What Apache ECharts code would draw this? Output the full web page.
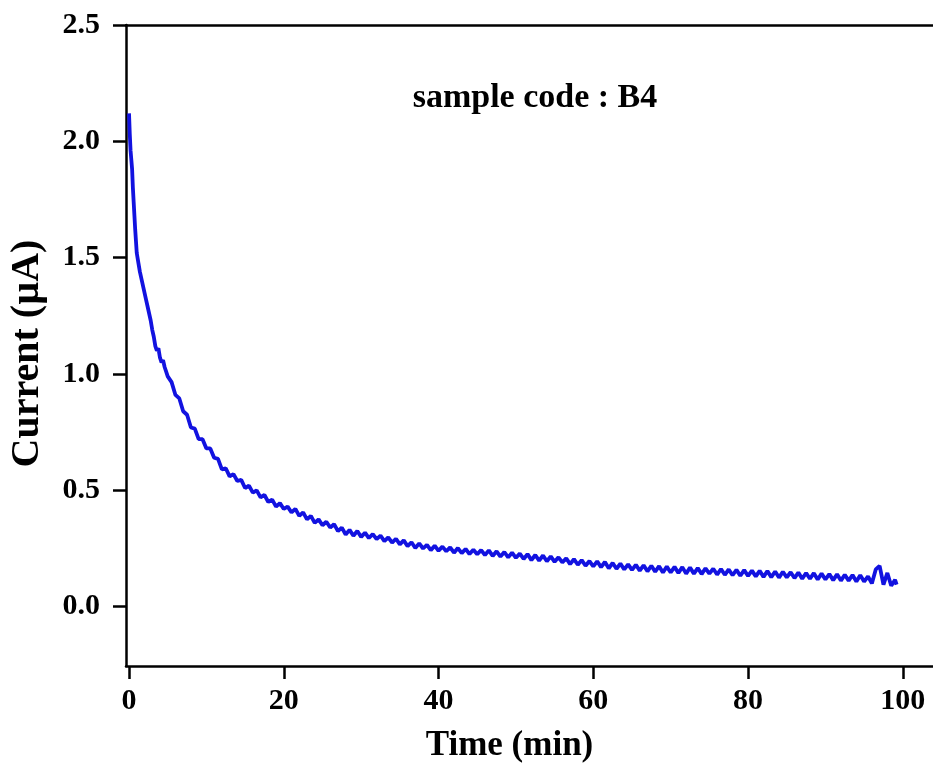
<!DOCTYPE html>
<html>
<head>
<meta charset="utf-8">
<script src="https://cdn.jsdelivr.net/npm/echarts@6/dist/echarts.min.js"></script>
<style>
html,body{margin:0;padding:0;background:#ffffff;overflow:hidden;}
#chart{width:933px;height:773px;}
</style>
</head>
<body>
<div id="chart"></div>
<script>
// Time (min)
var timeMin = [
0,0.1,0.2,0.3,0.4,0.5,0.6,0.7,0.8,0.9,1.0,1.2,1.4,1.6,1.8,2.0,2.2,2.4,2.6,2.8,3.0,3.2,3.4,3.6,3.8,4.0,4.2,4.4,4.6,4.8,5.0,
5.5,6,6.5,7,7.5,8,8.5,9,9.5,10,
10.5,11,11.5,12,12.5,13,13.5,14,14.5,15,
15.5,16,16.5,17,17.5,18,18.5,19,19.5,20,
20.5,21,21.5,22,22.5,23,23.5,24,24.5,25,
25.5,26,26.5,27,27.5,28,28.5,29,29.5,30,
30.5,31,31.5,32,32.5,33,33.5,34,34.5,35,
35.5,36,36.5,37,37.5,38,38.5,39,39.5,40,
40.5,41,41.5,42,42.5,43,43.5,44,44.5,45,
45.5,46,46.5,47,47.5,48,48.5,49,49.5,50,
50.5,51,51.5,52,52.5,53,53.5,54,54.5,55,
55.5,56,56.5,57,57.5,58,58.5,59,59.5,60,
60.5,61,61.5,62,62.5,63,63.5,64,64.5,65,
65.5,66,66.5,67,67.5,68,68.5,69,69.5,70,
70.5,71,71.5,72,72.5,73,73.5,74,74.5,75,
75.5,76,76.5,77,77.5,78,78.5,79,79.5,80,
80.5,81,81.5,82,82.5,83,83.5,84,84.5,85,
85.5,86,86.5,87,87.5,88,88.5,89,89.5,90,
90.5,91,91.5,92,92.5,93,93.5,94,94.5,95,
95.5,96,96.5,97,97.5,98,98.5,99,99.2
];
// Current (µA)
var currentUA = [
2.12,2.03,1.96,1.92,1.88,1.80,1.74,1.68,1.62,1.57,1.52,1.48,1.44,1.41,1.38,1.35,1.32,1.29,1.26,1.23,1.19,1.16,1.12,1.10,1.11,1.07,1.05,1.06,1.03,1.01,0.99,
0.965,0.91,0.895,0.84,0.825,0.77,0.765,0.72,0.72,0.68,
0.68,0.64,0.635,0.59,0.595,0.56,0.57,0.54,0.545,0.51,
0.52,0.49,0.50,0.47,0.48,0.45,0.46,0.43,0.445,0.42,
0.43,0.405,0.42,0.39,0.405,0.375,0.39,0.36,0.375,0.35,
0.365,0.34,0.355,0.325,0.34,0.31,0.33,0.305,0.325,0.30,
0.318,0.295,0.312,0.29,0.305,0.282,0.298,0.275,0.292,0.268,
0.285,0.26,0.277,0.252,0.272,0.25,0.266,0.243,0.262,0.24,
0.258,0.238,0.255,0.232,0.252,0.23,0.248,0.226,0.245,0.225,
0.243,0.222,0.242,0.218,0.238,0.215,0.235,0.212,0.232,0.21,
0.228,0.205,0.226,0.2,0.222,0.198,0.22,0.195,0.216,0.193,
0.212,0.19,0.208,0.183,0.204,0.18,0.2,0.176,0.196,0.173,
0.195,0.17,0.192,0.165,0.188,0.163,0.185,0.16,0.182,0.158,
0.18,0.155,0.178,0.152,0.176,0.15,0.174,0.147,0.172,0.147,
0.171,0.145,0.17,0.142,0.168,0.142,0.166,0.14,0.165,0.142,
0.163,0.138,0.162,0.137,0.16,0.135,0.158,0.133,0.157,0.132,
0.155,0.13,0.154,0.128,0.153,0.127,0.151,0.125,0.15,0.126,
0.148,0.123,0.147,0.12,0.145,0.12,0.144,0.117,0.142,0.117,
0.14,0.114,0.139,0.112,0.137,0.112,0.136,0.108,0.135,0.108,
0.13,0.1,0.16,0.175,0.095,0.145,0.09,0.115,0.095
];
var xTicks = [0,20,40,60,80,100];
var yTicks = [0.0,0.5,1.0,1.5,2.0,2.5];
var titleText = 'sample code : B4';
var xName = 'Time (min)';
var yName = 'Current (\u00b5A)';

var seriesData = timeMin.map(function(t,i){return [t,currentUA[i]];});
var FONT = '"Liberation Serif","Times New Roman",serif';

var chart = echarts.init(document.getElementById('chart'));
chart.setOption({
  backgroundColor:'#ffffff',
  animation:false,
  grid:{left:126,top:25,right:0,bottom:107,containLabel:false},
  title:{
    text:titleText,left:530,top:76,textAlign:'center',
    textStyle:{color:'#000',fontFamily:FONT,fontWeight:'bold',fontSize:34}
  },
  xAxis:[{
    type:'value',min:-0.39,max:103.9,
    name:xName,nameLocation:'middle',nameGap:62,
    nameTextStyle:{fontFamily:FONT,fontWeight:'bold',fontSize:35,color:'#000',padding:[0,40,0,0]},
    axisLine:{show:true,onZero:false,lineStyle:{color:'#000',width:2.5}},
    axisTick:{show:true,inside:false,length:13,customValues:xTicks,lineStyle:{color:'#000',width:2.5}},
    axisLabel:{show:true,customValues:xTicks,margin:20,fontFamily:FONT,fontWeight:'bold',fontSize:30,color:'#000'},
    splitLine:{show:false}
  },{
    type:'value',position:'top',min:-0.39,max:103.9,
    axisLine:{show:true,onZero:false,lineStyle:{color:'#000',width:2.5}},
    axisTick:{show:false},axisLabel:{show:false},splitLine:{show:false}
  }],
  yAxis:{
    type:'value',min:-0.255,max:2.5,
    name:yName,nameLocation:'middle',nameGap:78,nameRotate:90,
    nameTextStyle:{fontFamily:FONT,fontWeight:'bold',fontSize:40,color:'#000',padding:[0,16,0,0]},
    axisLine:{show:true,onZero:false,lineStyle:{color:'#000',width:2.5}},
    axisTick:{show:true,inside:false,length:13,customValues:yTicks,lineStyle:{color:'#000',width:2.5}},
    axisLabel:{show:true,customValues:yTicks,margin:26,fontFamily:FONT,fontWeight:'bold',fontSize:30,color:'#000',
      formatter:function(v){return v.toFixed(1);}},
    splitLine:{show:false}
  },
  series:[{
    type:'line',data:seriesData,showSymbol:false,
    lineStyle:{color:'#1212e0',width:3.8}
  }]
});
</script>
</body>
</html>
